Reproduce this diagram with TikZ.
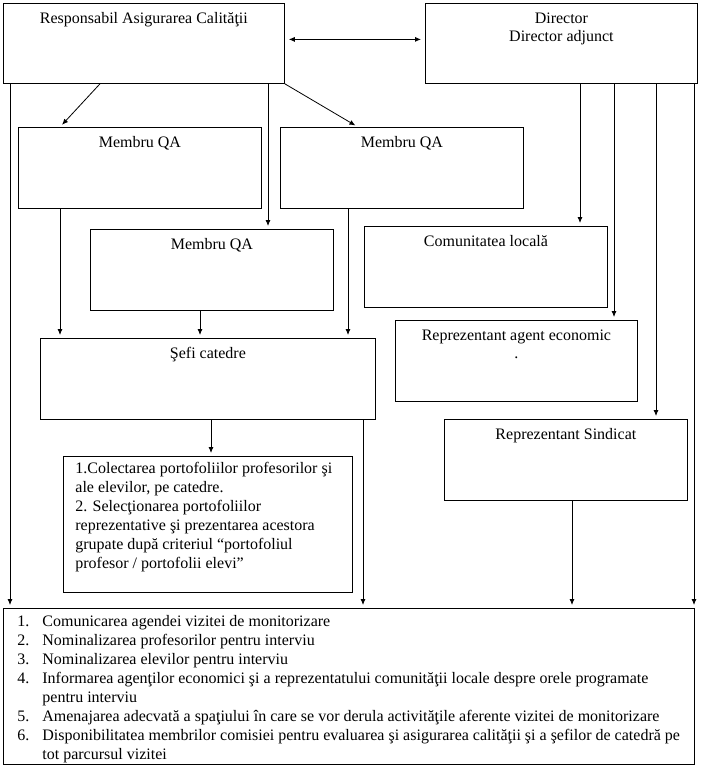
\documentclass[tikz,border=0pt]{standalone}
\usepackage{fontspec}
\setmainfont{Liberation Serif}
\usetikzlibrary{arrows.meta,calc}
\tikzset{
  orgbox/.style={draw, rectangle, inner sep=0pt, anchor=north west, line width=0.8pt},
  edge/.style={-{Latex[length=6pt,width=5pt]}, line width=0.8pt, shorten >=3pt},
}
\newcommand{\boxtxt}[3]{\parbox[t][#2pt][t]{#1pt}{\centering\rule{0pt}{20pt}#3}}

\begin{document}
\begin{tikzpicture}[x=1pt, y=-1pt,
    every node/.style={font=\fontsize{16}{18}\selectfont},
  ]
\useasboundingbox (0,0) rectangle (701,768);
\node[orgbox] (rac)    at (3,3)     {\boxtxt{281}{80}{Responsabil Asigurarea Calităţii}};
\node[orgbox] (dir)    at (425,3)   {\boxtxt{272}{80}{Director\\Director adjunct}};
\node[orgbox] (qa1)    at (18,127)  {\boxtxt{243}{81}{Membru QA}};
\node[orgbox] (qa2)    at (280,127) {\boxtxt{243}{81}{Membru QA}};
\node[orgbox] (qa3)    at (90,229)  {\boxtxt{243}{81}{Membru QA}};
\node[orgbox] (com)    at (364,226) {\boxtxt{243}{81}{Comunitatea locală}};
\node[orgbox] (sefi)   at (40,338)  {\boxtxt{335}{81}{Şefi catedre}};
\node[orgbox] (agent)  at (395,320) {\boxtxt{242}{81}{Reprezentant agent economic\\.}};
\node[orgbox] (sind)   at (444,419) {\boxtxt{243}{81}{Reprezentant Sindicat}};
\node[orgbox] (colect) at (63,456)  {\parbox[t][136pt][t]{289pt}{\raggedright\leftskip=12pt
    \fontsize{16}{19}\selectfont\rule{0pt}{17pt}1.Colectarea portofoliilor profesorilor şi\\
    ale elevilor, pe catedre.\\
    2. Selecţionarea portofoliilor\\
    reprezentative şi prezentarea acestora\\
    grupate după criteriul “portofoliul\\
    profesor / portofolii elevi”}};
\node[orgbox] (todo)   at (3,608)   {\parbox[t][156pt][t]{691pt}{\fontsize{16}{19}\selectfont
    \rule{0pt}{18pt}\hspace*{14pt}\begin{tabular}[t]{@{}r@{\hspace{13pt}}l@{}}
    1. & Comunicarea agendei vizitei de monitorizare\\
    2. & Nominalizarea profesorilor pentru interviu\\
    3. & Nominalizarea elevilor pentru interviu\\
    4. & Informarea agenţilor economici şi a reprezentatului comunităţii locale despre orele programate\\
       & pentru interviu\\
    5. & Amenajarea adecvată a spaţiului în care se vor derula activităţile aferente vizitei de monitorizare\\
    6. & Disponibilitatea membrilor comisiei pentru evaluarea şi asigurarea calităţii şi a şefilor de catedră pe\\
       & tot parcursul vizitei
    \end{tabular}}};
% connectors
\draw[{Latex[length=6pt,width=5pt]}-{Latex[length=6pt,width=5pt]}, line width=0.8pt,
      shorten <=4pt, shorten >=4pt]
  ($(rac.east)+(0,-4)$) -- ($(dir.west)+(0,-4)$);
\draw[edge] ($(rac.south west)+(7,0)$)   -- ($(rac.south west |- todo.north)+(7,0)$);
\draw[edge] ($(rac.south west)+(97,0)$)  -- ($(qa1.north west)+(42,0)$);
\draw[edge] ($(rac.south west)+(265,0)$) -- ($(rac.south west |- qa3.north)+(265,0)$);
\draw[edge] (rac.south east)             -- ($(qa2.north west)+(78,0)$);
\draw[edge] ($(qa1.south west)+(42,0)$)  -- ($(qa1.south west |- sefi.north)+(42,0)$);
\draw[edge] ($(qa3.south west)+(110,0)$) -- ($(qa3.south west |- sefi.north)+(110,0)$);
\draw[edge] ($(qa2.south west)+(68,0)$)  -- ($(qa2.south west |- sefi.north)+(68,0)$);
\draw[edge] ($(sefi.south west)+(171,0)$) -- ($(sefi.south west |- colect.north)+(171,0)$);
\draw[edge] ($(sefi.south west)+(323,0)$) -- ($(sefi.south west |- todo.north)+(323,0)$);
\draw[edge] ($(dir.south west)+(155,0)$) -- ($(dir.south west |- com.north)+(155,0)$);
\draw[edge] ($(dir.south west)+(189,0)$) -- ($(dir.south west |- agent.north)+(189,0)$);
\draw[edge] ($(dir.south west)+(231,0)$) -- ($(dir.south west |- sind.north)+(231,0)$);
\draw[edge] ($(dir.south west)+(269,0)$) -- ($(dir.south west |- todo.north)+(269,0)$);
\draw[edge] ($(sind.south west)+(128,0)$) -- ($(sind.south west |- todo.north)+(128,0)$);
\end{tikzpicture}
\end{document}
